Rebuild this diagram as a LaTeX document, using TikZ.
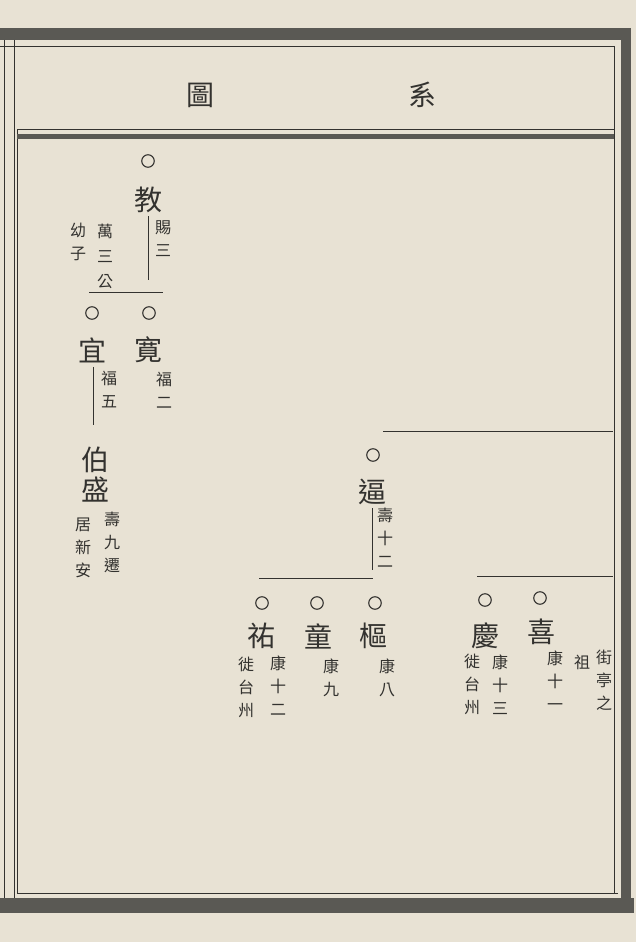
\documentclass[tikz,border=0pt]{standalone}
\usepackage{fontspec}
\newfontfamily\cjk{Noto Sans CJK TC}
\definecolor{paper}{HTML}{E8E2D4}
\definecolor{ink}{HTML}{33322F}
\definecolor{band}{HTML}{5A5954}

\tikzset{
  bigname/.style={font=\cjk\fontsize{28}{30}\selectfont, text=ink, inner sep=0pt, align=center},
  note/.style={font=\cjk\fontsize{16}{23}\selectfont, text=ink, inner sep=0pt, align=center},
  ring/.style={circle, draw=ink, line width=1.1pt, minimum size=12.5pt, inner sep=0pt},
  bar/.style={draw=ink, line width=0.9pt},
  rule/.style={draw=ink, line width=0.8pt},
}

\begin{document}
\begin{tikzpicture}[x=1pt,y=-1pt]
        \useasboundingbox[fill=paper] (0,0) rectangle (636,942);

        % frame
        \fill[band] (0,28) rectangle (631,40);
        \fill[band] (0,898) rectangle (634,913);
        \fill[band] (621,28) rectangle (631,913);
        \draw[rule] (0,46) -- (614,46);
        \draw[rule] (4,40) -- (4,898);
        \draw[rule] (14,40) -- (14,898);
        \draw[rule] (17,129) -- (17,893);
        \draw[rule] (614,46) -- (614,893);
        \draw[rule] (17,129) -- (614,129);
        \fill[band] (17,134) rectangle (614,139);
        \draw[rule] (17,893) -- (618,893);

        % title
        \node[bigname] (tu) at (200,95) {圖};
        \node[bigname] (xi) at (422,95) {系};

        % left branch
        \node[ring] (rjiao) at (148,161) {};
        \node[bigname] (jiao) at (148,200) {教};
        \coordinate (jiaoend) at (jiao.south |- 0,280);
        \draw[bar] (jiao.south) ++(0,3) -- (jiaoend);
        \node[note] (jiaorank) at (163,239) {賜\\三};
        \node[note, font=\cjk\fontsize{16}{25}\selectfont] (jiaohao) at (105,256) {萬\\三\\公};
        \node[note] (jiaoyou) at (78,242) {幼\\子};

        \coordinate (barAl) at (89,292);
        \coordinate (barAr) at (163,292);
        \draw[bar] (barAl) -- (barAr);

        \node[ring] (ryi) at (92,313) {};
        \node[ring] (rkuan) at (149,313) {};
        \node[bigname] (yi) at (92,350) {宜};
        \node[bigname] (kuan) at (148,350) {寛};
        \node[note] (kuanrank) at (164,390) {福\\二};
        \node[note] (yirank) at (109,390) {福\\五};
        \coordinate (yiend) at (yi.south |- 0,432);
        \draw[bar] (yi.south) ++(1,4) -- ++(0,58);

        \node[bigname] (bosheng) at (95,475) {伯\\盛};
        \node[note] (borank) at (112,542) {壽\\九\\遷};
        \node[note] (boju) at (83,548) {居\\新\\安};

        % right branch
        \coordinate (barBl) at (383,431);
        \coordinate (barBr) at (613,431);
        \draw[bar] (barBl) -- (barBr);

        \node[ring] (rbi) at (373,455) {};
        \node[bigname] (bi) at (372,492) {逼};
        \coordinate (biend) at (bi.south |- 0,570);
        \draw[bar] (bi.south) ++(0,3) -- (biend);
        \node[note] (birank) at (385,538) {壽\\十\\二};

        \coordinate (barCl) at (259,578);
        \coordinate (barCr) at (373,578);
        \draw[bar] (barCl) -- (barCr);
        \coordinate (barDl) at (477,576);
        \coordinate (barDr) at (613,576);
        \draw[bar] (barDl) -- (barDr);

        \node[ring] (ryou) at (262,603) {};
        \node[ring] (rtong) at (317,603) {};
        \node[ring] (rshu) at (375,603) {};
        \node[ring] (rqing) at (485,600) {};
        \node[ring] (rxi) at (540,598) {};

        \node[bigname] (you) at (261,636) {祐};
        \node[bigname] (tong) at (318,636) {童};
        \node[bigname] (shu) at (373,636) {樞};
        \node[bigname] (qing) at (485,636) {慶};
        \node[bigname] (xi2) at (541,632) {喜};

        \node[note] (yourank) at (278,686) {康\\十\\二};
        \node[note] (youmove) at (246,687) {徙\\台\\州};
        \node[note] (tongrank) at (331,678) {康\\九};
        \node[note] (shurank) at (387,678) {康\\八};
        \node[note] (qingrank) at (500,685) {康\\十\\三};
        \node[note] (qingmove) at (472,684) {徙\\台\\州};
        \node[note] (xirank) at (555,681) {康\\十\\一};
        \node[note] (xizu) at (582,662) {祖};
        \node[note] (xijie) at (604,680) {街\\亭\\之};

    \end{tikzpicture}
\end{document}
